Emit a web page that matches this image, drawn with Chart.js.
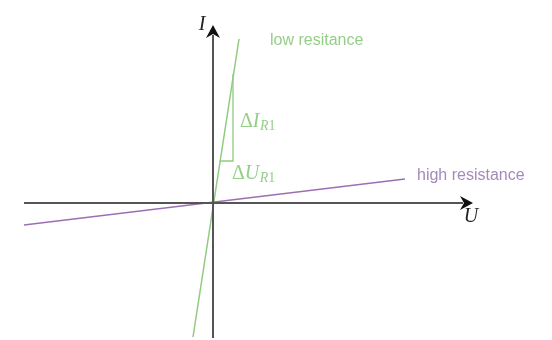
<!DOCTYPE html>
<html>
<head>
<meta charset="utf-8">
<script src="https://cdn.jsdelivr.net/npm/chart.js@4.4.1/dist/chart.umd.min.js"></script>
<style>
  html, body { margin: 0; padding: 0; background: #fff; }
  #wrap { width: 552px; height: 340px; }
</style>
</head>
<body>
<div id="wrap"><canvas id="chart" width="552" height="340"></canvas></div>
<script>
// Values in chart units (U right, I up), origin at the axes crossing
const uAxis = [{ x: -9.45, y: 0 }, { x: 12.5, y: 0 }];
const iAxis = [{ x: 0, y: -6.75 }, { x: 0, y: 8.4 }];
const lowResistance = [{ x: -1.0, y: -6.7 }, { x: 1.3, y: 8.2 }];
const highResistance = [{ x: -9.45, y: -1.1 }, { x: 9.6, y: 1.2 }];
const slopeTriangle = [{ x: 1.0, y: 6.45 }, { x: 1.0, y: 2.1 }, { x: 0.33, y: 2.1 }];

const green = '#8fcb80';
const purple = '#9a70b2';
const axisGray = '#555';

// Text labels placed in chart units
const labels = [
  { text: 'low resitance', x: 2.85, y: 8.1, color: '#93cf86', font: '16px "Liberation Sans", Arial, sans-serif' },
  { text: 'high resistance', x: 10.2, y: 1.35, color: '#a689bb', font: '16px "Liberation Sans", Arial, sans-serif' }
];

const arrowTips = [
  { x: 13.0, y: 0, dir: 'right' },
  { x: 0, y: 8.9, dir: 'up' }
];

const axisDecor = {
  id: 'axisDecor',
  afterDatasetsDraw(chart) {
    const ctx = chart.ctx;
    const xs = chart.scales.x;
    const ys = chart.scales.y;
    ctx.save();

    // arrow heads
    ctx.fillStyle = '#111';
    arrowTips.forEach(a => {
      const px = xs.getPixelForValue(a.x);
      const py = ys.getPixelForValue(a.y);
      ctx.beginPath();
      if (a.dir === 'right') {
        ctx.moveTo(px, py);
        ctx.lineTo(px - 13, py - 7);
        ctx.lineTo(px - 9, py);
        ctx.lineTo(px - 13, py + 7);
      } else {
        ctx.moveTo(px, py);
        ctx.lineTo(px - 7, py + 13);
        ctx.lineTo(px, py + 9);
        ctx.lineTo(px + 7, py + 13);
      }
      ctx.closePath();
      ctx.fill();
    });

    // axis names
    ctx.fillStyle = '#222';
    ctx.font = 'italic 20px "Liberation Serif", "DejaVu Serif", serif';
    ctx.textAlign = 'center';
    ctx.textBaseline = 'middle';
    ctx.fillText('I', xs.getPixelForValue(-0.55), ys.getPixelForValue(8.9));
    ctx.fillText('U', xs.getPixelForValue(12.9), ys.getPixelForValue(-0.7));

    // plain labels
    ctx.textAlign = 'left';
    labels.forEach(l => {
      ctx.fillStyle = l.color;
      ctx.font = l.font;
      ctx.fillText(l.text, xs.getPixelForValue(l.x), ys.getPixelForValue(l.y));
    });

    // delta labels with subscript
    ctx.textBaseline = 'alphabetic';
    ctx.fillStyle = '#93cf86';
    const deltas = [
      { main: 'I', x: 1.35, y: 3.8 },
      { main: 'U', x: 0.95, y: 1.2 }
    ];
    deltas.forEach(d => {
      let px = xs.getPixelForValue(d.x);
      const py = ys.getPixelForValue(d.y);
      ctx.font = '20px "Liberation Serif", "DejaVu Serif", serif';
      ctx.fillText('\u0394', px, py);
      px += ctx.measureText('\u0394').width;
      ctx.font = 'italic 20px "Liberation Serif", "DejaVu Serif", serif';
      ctx.fillText(d.main, px, py);
      px += ctx.measureText(d.main).width + 0.5;
      ctx.font = 'italic 14px "Liberation Serif", "DejaVu Serif", serif';
      ctx.fillText('R', px, py + 3);
      px += ctx.measureText('R').width;
      ctx.font = '14px "Liberation Serif", "DejaVu Serif", serif';
      ctx.fillText('1', px, py + 3);
    });

    ctx.restore();
  }
};

new Chart(document.getElementById('chart'), {
  type: 'scatter',
  data: {
    datasets: [
      { data: uAxis, showLine: true, borderColor: axisGray, borderWidth: 2, pointRadius: 0 },
      { data: iAxis, showLine: true, borderColor: axisGray, borderWidth: 2, pointRadius: 0 },
      { data: highResistance, showLine: true, borderColor: purple, borderWidth: 1.3, pointRadius: 0 },
      { data: lowResistance, showLine: true, borderColor: green, borderWidth: 1.5, pointRadius: 0 },
      { data: slopeTriangle, showLine: true, borderColor: green, borderWidth: 1.3, pointRadius: 0 }
    ]
  },
  options: {
    responsive: false,
    animation: false,
    layout: { padding: 0 },
    plugins: { legend: { display: false }, tooltip: { enabled: false } },
    scales: {
      x: { type: 'linear', display: false, min: -10.65, max: 16.95 },
      y: { type: 'linear', display: false, min: -6.85, max: 10.15 }
    }
  },
  plugins: [axisDecor]
});
</script>
</body>
</html>
